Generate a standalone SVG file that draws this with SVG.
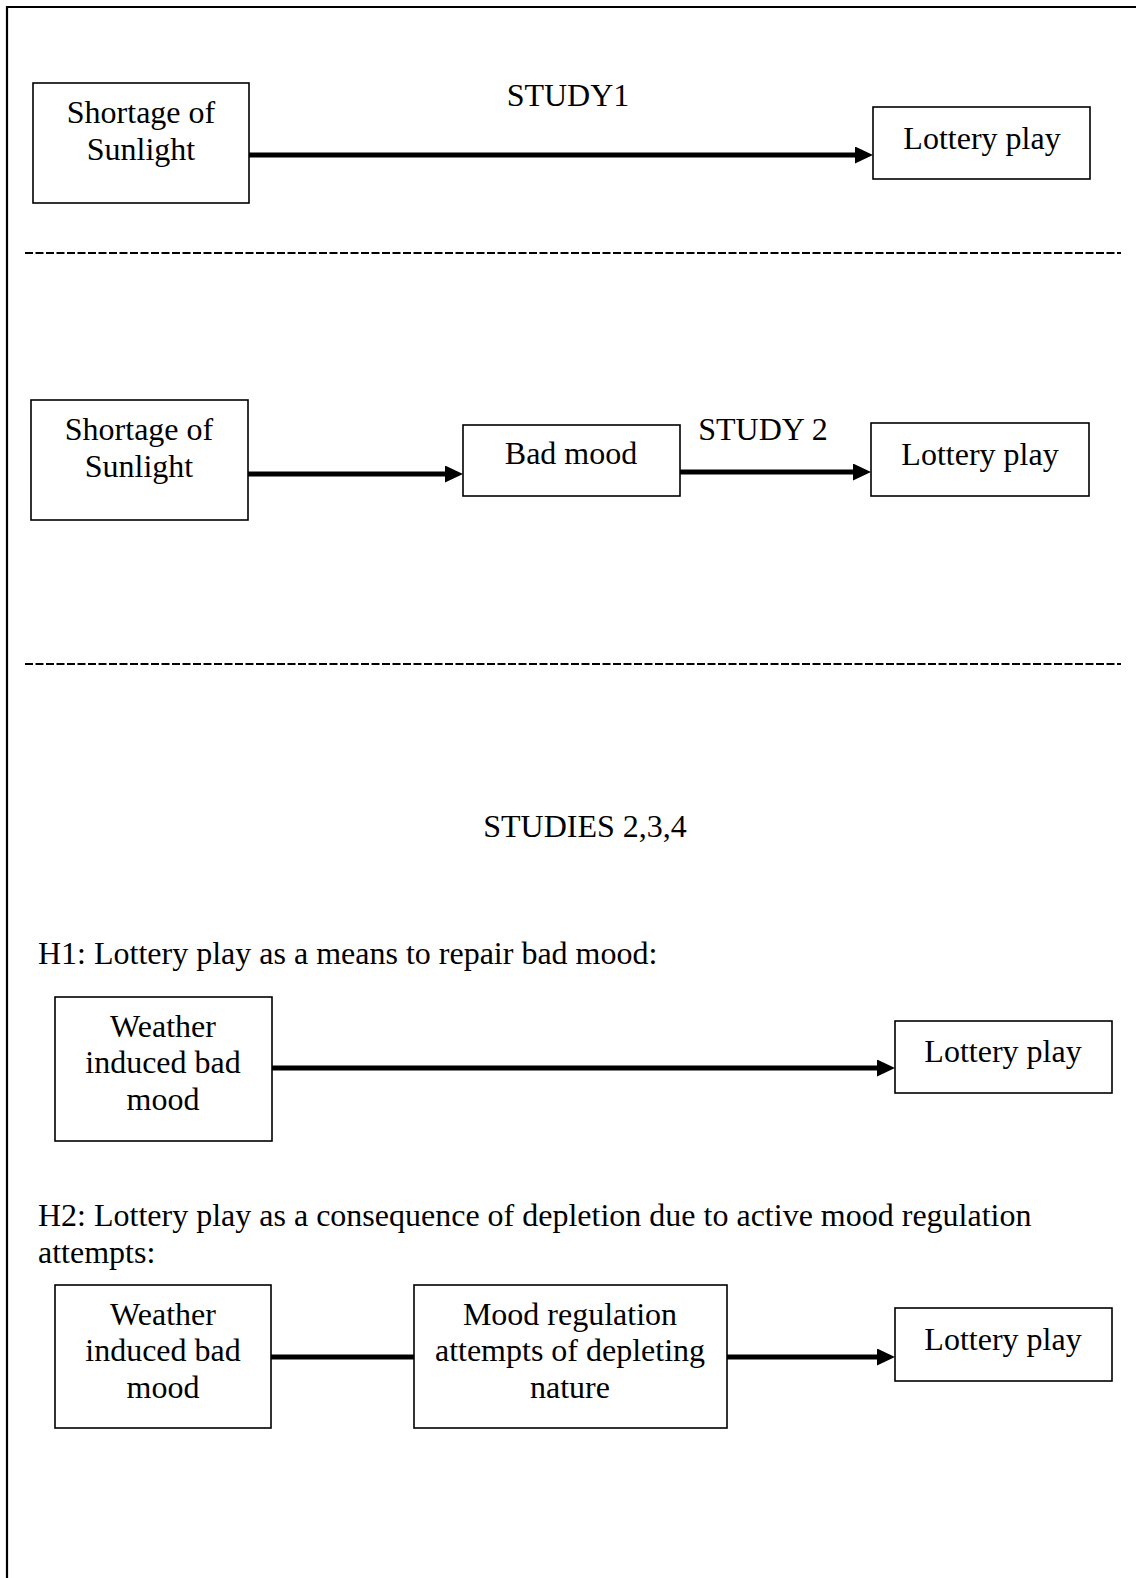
<svg xmlns="http://www.w3.org/2000/svg" width="1136" height="1578" viewBox="0 0 1136 1578">
<style>
text{font-family:"Liberation Serif","Times New Roman",serif;font-size:32px;fill:#000}
.c{text-anchor:middle}
.box{fill:#fff;stroke:#000;stroke-width:1.6}
.arr{stroke:#000;stroke-width:4.8;fill:none}
.dash{stroke:#000;stroke-width:1.8;stroke-dasharray:8 2.5;fill:none}
.frame{stroke:#000;stroke-width:2.2;fill:none}
</style>
<defs>
<marker id="ah" markerUnits="userSpaceOnUse" markerWidth="18" markerHeight="17" refX="0" refY="8.5" orient="auto">
<path d="M0,0 L18,8.5 L0,17 Z" fill="#000"/>
</marker>
</defs>
<rect width="1136" height="1578" fill="#fff"/>
<path class="frame" d="M7,1578 V7 H1136"/>
<g id="dividers">
<line class="dash" x1="25" y1="253" x2="1121" y2="253"/>
<line class="dash" x1="25" y1="664" x2="1121" y2="664"/>
</g>
<g id="labels">
<text class="c" x="568" y="106">STUDY1</text>
<text class="c" x="763" y="440">STUDY 2</text>
<text class="c" x="585" y="837">STUDIES 2,3,4</text>
<text x="38" y="964">H1: Lottery play as a means to repair bad mood:</text>
<text x="38" y="1226">H2: Lottery play as a consequence of depletion due to active mood regulation</text>
<text x="38" y="1263">attempts:</text>
</g>
<g id="connectors">
<line class="arr" x1="249" y1="155" x2="855" y2="155" marker-end="url(#ah)"/>
<line class="arr" x1="248" y1="474" x2="445" y2="474" marker-end="url(#ah)"/>
<line class="arr" x1="680" y1="472" x2="853" y2="472" marker-end="url(#ah)"/>
<line class="arr" x1="272" y1="1068" x2="877" y2="1068" marker-end="url(#ah)"/>
<line class="arr" x1="271" y1="1357" x2="414" y2="1357"/>
<line class="arr" x1="727" y1="1357" x2="877" y2="1357" marker-end="url(#ah)"/>
</g>
<g id="s1-sunlight"><rect class="box" x="33" y="83" width="216" height="120"/><text class="c" x="141" y="123">Shortage of</text><text class="c" x="141" y="160">Sunlight</text></g>
<g id="s1-lottery"><rect class="box" x="873" y="107" width="217" height="72"/><text class="c" x="982" y="149">Lottery play</text></g>
<g id="s2-sunlight"><rect class="box" x="31" y="400" width="217" height="120"/><text class="c" x="139" y="440">Shortage of</text><text class="c" x="139" y="477">Sunlight</text></g>
<g id="s2-badmood"><rect class="box" x="463" y="425" width="217" height="71"/><text class="c" x="571" y="464">Bad mood</text></g>
<g id="s2-lottery"><rect class="box" x="871" y="423" width="218" height="73"/><text class="c" x="980" y="465">Lottery play</text></g>
<g id="h1-weather"><rect class="box" x="55" y="997" width="217" height="144"/><text class="c" x="163" y="1037">Weather</text><text class="c" x="163" y="1073">induced bad</text><text class="c" x="163" y="1110">mood</text></g>
<g id="h1-lottery"><rect class="box" x="895" y="1021" width="217" height="72"/><text class="c" x="1003" y="1062">Lottery play</text></g>
<g id="h2-weather"><rect class="box" x="55" y="1285" width="216" height="143"/><text class="c" x="163" y="1325">Weather</text><text class="c" x="163" y="1361">induced bad</text><text class="c" x="163" y="1398">mood</text></g>
<g id="h2-regulation"><rect class="box" x="414" y="1285" width="313" height="143"/><text class="c" x="570" y="1325">Mood regulation</text><text class="c" x="570" y="1361">attempts of depleting</text><text class="c" x="570" y="1398">nature</text></g>
<g id="h2-lottery"><rect class="box" x="895" y="1308" width="217" height="73"/><text class="c" x="1003" y="1350">Lottery play</text></g>
</svg>
